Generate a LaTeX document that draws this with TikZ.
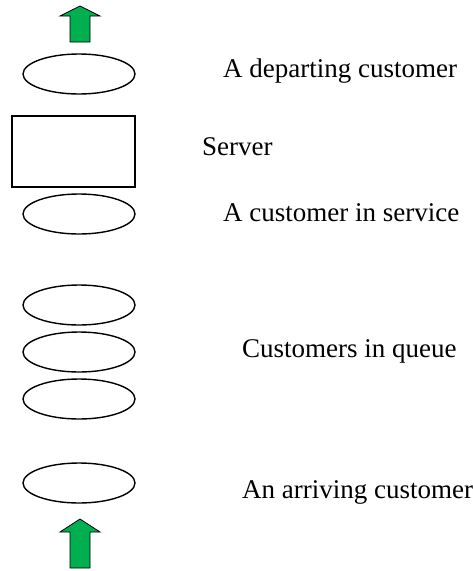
\documentclass[tikz,border=0pt]{standalone}
\usepackage{fontspec}
\setmainfont{Liberation Serif}
\usetikzlibrary{shapes.geometric}
\definecolor{officegreen}{RGB}{0,176,80}
\begin{document}
\begin{tikzpicture}[x=1pt,y=-1pt,
  every node/.style={font=\fontsize{27}{32}\selectfont},
  cust/.style={draw,line width=1.4pt,ellipse,minimum width=112pt,minimum height=40pt,inner sep=0pt},
  label/.style={anchor=base west,inner sep=0pt}]
\useasboundingbox (0,0) rectangle (473,571);
% customers and the server
\node[cust] (depart) at (79,74) {};
\node[draw,line width=1.4pt,minimum width=123pt,minimum height=71pt,inner sep=0pt] (server) at (73.5,151.5) {};
\node[cust] (inservice) at (79,214) {};
\foreach \n/\y in {q1/305,q2/352,q3/399}
  \node[cust] (\n) at (79,\y) {};
\node[cust] (arrive) at (79,483) {};
% block arrows: tip / head base / tail
\foreach \t/\h/\b in {6/16/42,519/532/568}
  \draw[fill=officegreen,line width=0.8pt,line join=miter]
    (80,\t) -- (100,\h) -- (90,\h) -- (90,\b) -- (70,\b) -- (70,\h) -- (60,\h) -- cycle;
% labels
\node[label] (tdepart) at (223,77) {A departing customer};
\node[label] (tserver) at (202,155) {Server};
\node[label] (tservice) at (223,221) {A customer in service};
\node[label] (tqueue) at (242,357) {Customers in queue};
\node[label] (tarrive) at (242,498) {An arriving customer};
\end{tikzpicture}
\end{document}
